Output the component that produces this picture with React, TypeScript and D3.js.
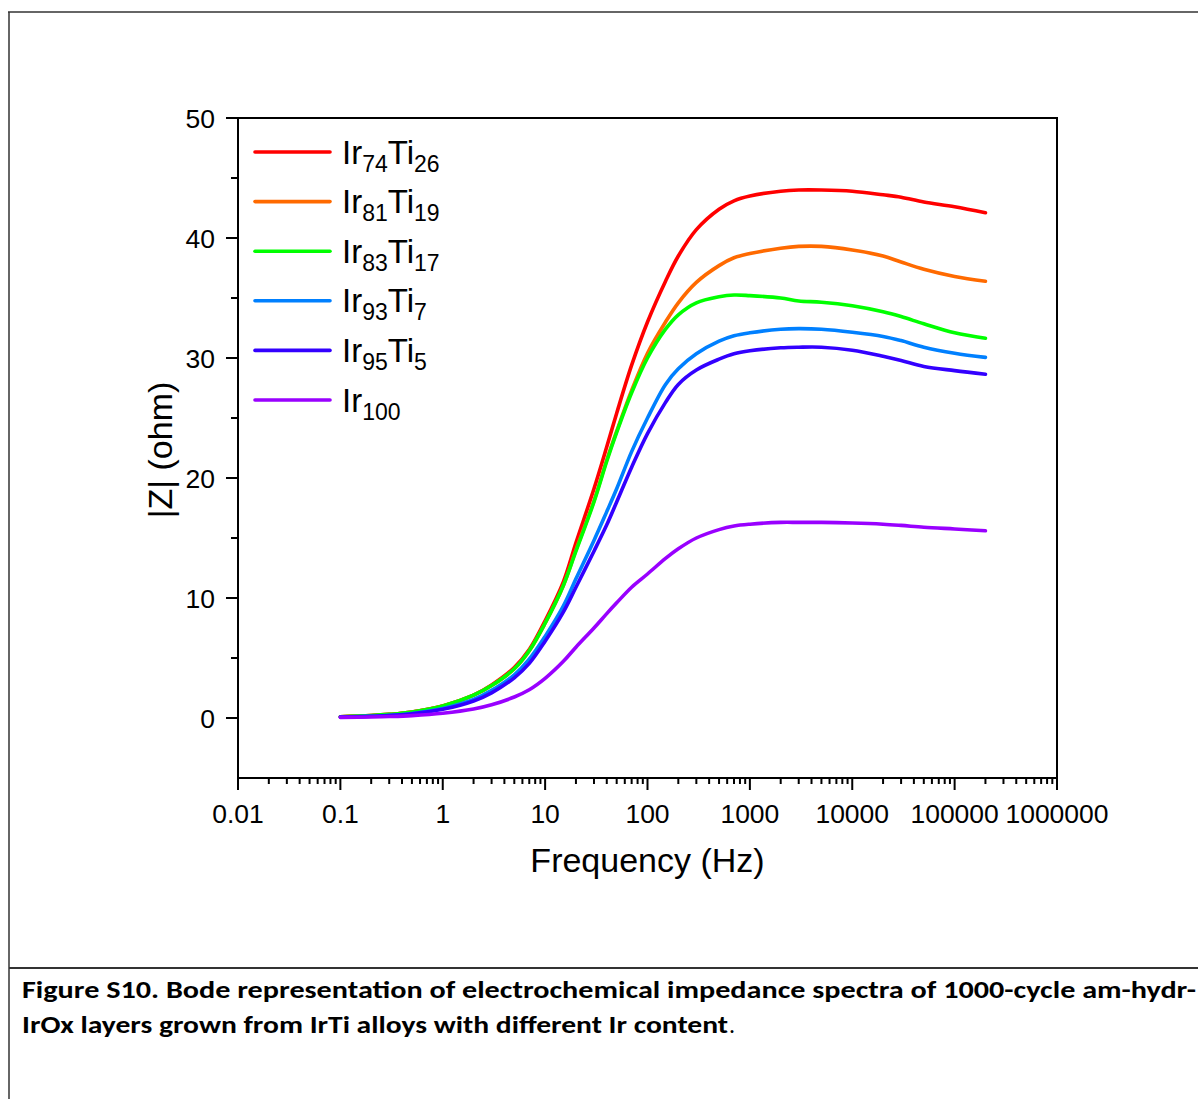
import React from "react";
import * as d3 from "d3";

const freqs = [0.1, 0.2, 0.3, 0.5, 1, 2, 3, 5, 7, 10, 15, 20, 30, 40, 50, 70, 100, 150, 200, 300, 500, 700, 1000, 2000, 3000, 5000, 10000, 20000, 30000, 50000, 100000, 200000];

const ir74ti26 = [0.1, 0.2, 0.3, 0.5, 1.0, 1.9, 2.75, 4.2, 5.7, 8.1, 11.3, 14.6, 19.1, 22.6, 25.4, 29.4, 33.0, 36.4, 38.5, 40.7, 42.4, 43.1, 43.5, 43.9, 44.0, 44.0, 43.9, 43.6, 43.4, 43.0, 42.6, 42.1];
const ir81ti19 = [0.1, 0.2, 0.3, 0.5, 1.0, 1.9, 2.7, 4.1, 5.6, 7.9, 11.0, 14.0, 18.1, 21.5, 23.9, 27.3, 30.4, 33.0, 34.6, 36.3, 37.7, 38.35, 38.7, 39.15, 39.3, 39.3, 39.0, 38.5, 38.0, 37.4, 36.8, 36.4];
const ir83ti17 = [0.1, 0.2, 0.3, 0.5, 1.0, 1.9, 2.7, 4.1, 5.6, 7.9, 11.0, 13.9, 18.0, 21.4, 23.8, 27.1, 30.0, 32.4, 33.6, 34.6, 35.1, 35.25, 35.2, 35.0, 34.75, 34.65, 34.35, 33.85, 33.45, 32.85, 32.1, 31.65];
const ir93ti7 = [0.08, 0.15, 0.22, 0.38, 0.8, 1.55, 2.3, 3.6, 4.9, 6.8, 9.3, 11.6, 14.8, 17.2, 19.1, 22.2, 25.0, 27.8, 29.1, 30.35, 31.4, 31.85, 32.1, 32.4, 32.45, 32.4, 32.15, 31.8, 31.45, 30.9, 30.4, 30.05];
const ir95ti5 = [0.07, 0.14, 0.2, 0.35, 0.72, 1.42, 2.1, 3.35, 4.55, 6.4, 8.8, 10.9, 13.9, 16.1, 18.0, 20.9, 23.7, 26.3, 27.8, 29.0, 29.9, 30.35, 30.6, 30.85, 30.9, 30.9, 30.65, 30.15, 29.8, 29.3, 28.95, 28.65];
const ir100 = [0.05, 0.08, 0.12, 0.2, 0.4, 0.75, 1.1, 1.75, 2.35, 3.3, 4.7, 5.9, 7.5, 8.7, 9.6, 10.9, 12.0, 13.3, 14.1, 15.0, 15.7, 16.0, 16.15, 16.3, 16.3, 16.3, 16.25, 16.15, 16.05, 15.9, 15.75, 15.6];

const seriesNames = [
  { main: "Ir", sub: "74", main2: "Ti", sub2: "26" },
  { main: "Ir", sub: "81", main2: "Ti", sub2: "19" },
  { main: "Ir", sub: "83", main2: "Ti", sub2: "17" },
  { main: "Ir", sub: "93", main2: "Ti", sub2: "7" },
  { main: "Ir", sub: "95", main2: "Ti", sub2: "5" },
  { main: "Ir", sub: "100", main2: "", sub2: "" },
];
const seriesValues = [ir74ti26, ir81ti19, ir83ti17, ir93ti7, ir95ti5, ir100];
const seriesColors = ["#ff0000", "#ff6a00", "#00ff00", "#0080ff", "#3300ff", "#9900ff"];

const xTickValues = [0.01, 0.1, 1, 10, 100, 1000, 10000, 100000, 1000000];
const xTickLabels = ["0.01", "0.1", "1", "10", "100", "1000", "10000", "100000", "1000000"];
const yTickValues = [0, 10, 20, 30, 40, 50];
const yMinorValues = [5, 15, 25, 35, 45];

const xTitle = "Frequency (Hz)";
const yTitle = "|Z| (ohm)";
const caption1 = "Figure S10. Bode representation of electrochemical impedance spectra of 1000-cycle am-hydr-";
const caption2 = "IrOx layers grown from IrTi alloys with different Ir content";

const W = 1198;
const H = 1099;
const L = 238, R = 1057, T = 118, B = 778;

export default function App() {
  const x = d3.scaleLog().domain([0.01, 1000000]).range([L, R]);
  const y = d3.scaleLinear().domain([-5, 50]).range([B, T]);
  const font = "'Liberation Sans', Arial, sans-serif";
  const capFont = "Carlito, 'Liberation Sans Narrow', 'DejaVu Sans Condensed', sans-serif";

  const xMinor: number[] = [];
  for (let e = -2; e < 6; e++) {
    for (let m = 2; m <= 9; m++) xMinor.push(m * Math.pow(10, e));
  }

  const line = d3
    .line<number>()
    .x((_, i) => x(freqs[i]))
    .y((d) => y(d))
    .curve(d3.curveCatmullRom.alpha(0.5));

  const legendY0 = 152;
  const legendDy = 49.6;

  return (
    <svg
      width={W}
      height={H}
      viewBox={`0 0 ${W} ${H}`}
      style={{ position: "absolute", left: 0, top: 0, background: "#fff" }}
    >
      <rect x={0} y={0} width={W} height={H} fill="#fff" />
      <line x1={8} x2={W} y1={12} y2={12} stroke="#333" strokeWidth={1.5} />
      <line x1={9} x2={9} y1={12} y2={H} stroke="#333" strokeWidth={1.5} />
      <line x1={9} x2={W} y1={968} y2={968} stroke="#333" strokeWidth={2} />

      <defs>
        <clipPath id="clip">
          <rect x={L} y={T} width={R - L} height={B - T} />
        </clipPath>
      </defs>
      <g clipPath="url(#clip)">
        {seriesValues.map((vals, k) => (
          <path
            key={k}
            d={line(vals) || ""}
            fill="none"
            stroke={seriesColors[k]}
            strokeWidth={3.6}
            strokeLinecap="round"
            strokeLinejoin="round"
          />
        ))}
      </g>

      <rect x={L} y={T} width={R - L} height={B - T} fill="none" stroke="#000" strokeWidth={2} />

      {xTickValues.map((v, i) => (
        <g key={"xt" + i}>
          <line x1={x(v)} x2={x(v)} y1={B} y2={B + 12} stroke="#000" strokeWidth={2} />
          <text x={x(v)} y={823} textAnchor="middle" fontFamily={font} fontSize={26.5} fill="#000">
            {xTickLabels[i]}
          </text>
        </g>
      ))}
      {xMinor.map((v, i) => (
        <line key={"xm" + i} x1={x(v)} x2={x(v)} y1={B} y2={B + 6} stroke="#000" strokeWidth={2} />
      ))}

      {yTickValues.map((v, i) => (
        <g key={"yt" + i}>
          <line x1={L - 12} x2={L} y1={y(v)} y2={y(v)} stroke="#000" strokeWidth={2} />
          <text x={215} y={y(v) + 9.5} textAnchor="end" fontFamily={font} fontSize={26.5} fill="#000">
            {v}
          </text>
        </g>
      ))}
      {yMinorValues.map((v, i) => (
        <line key={"ym" + i} x1={L - 7} x2={L} y1={y(v)} y2={y(v)} stroke="#000" strokeWidth={2} />
      ))}

      <text x={647.5} y={872} textAnchor="middle" fontFamily={font} fontSize={34} fill="#000">
        {xTitle}
      </text>
      <text
        transform={`translate(172, 450) rotate(-90)`}
        textAnchor="middle"
        fontFamily={font}
        fontSize={34}
        fill="#000"
      >
        {yTitle}
      </text>

      {seriesNames.map((n, k) => {
        const ly = legendY0 + k * legendDy;
        return (
          <g key={"lg" + k}>
            <line x1={255} x2={330} y1={ly} y2={ly} stroke={seriesColors[k]} strokeWidth={3.6} strokeLinecap="round" />
            <text x={342} y={ly + 11.5} fontFamily={font} fontSize={33} fill="#000">
              <tspan>{n.main}</tspan>
              <tspan dy={8} fontSize={23}>{n.sub}</tspan>
              {n.main2 ? <tspan dy={-8} fontSize={33}>{n.main2}</tspan> : null}
              {n.sub2 ? <tspan dy={8} fontSize={23}>{n.sub2}</tspan> : null}
            </text>
          </g>
        );
      })}

      <text x={22} y={998} fontFamily={capFont} fontWeight="bold" fontSize={24} textLength={1174} lengthAdjust="spacingAndGlyphs" fill="#000">
        {caption1}
      </text>
      <text x={22} y={1033} fontFamily={capFont} fontWeight="bold" fontSize={24} textLength={706} lengthAdjust="spacingAndGlyphs" fill="#000">
        {caption2}
      </text>
      <text x={729} y={1033} fontFamily={capFont} fontSize={24} fill="#000">
        .
      </text>
    </svg>
  );
}
